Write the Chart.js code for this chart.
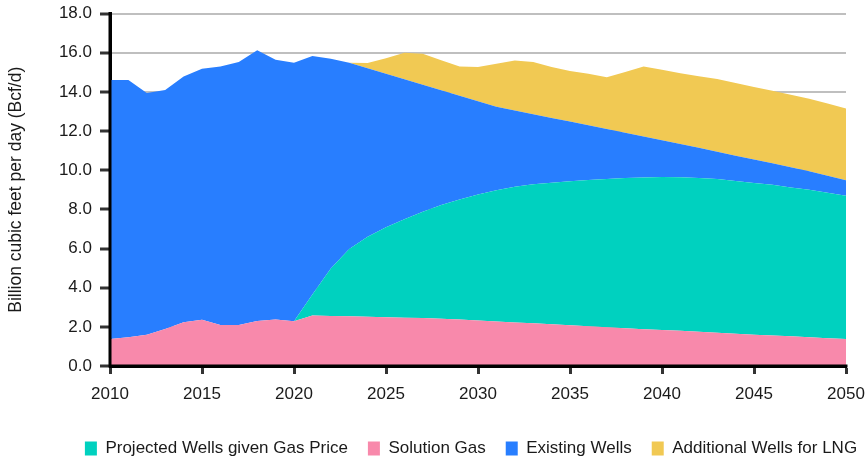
<!DOCTYPE html>
<html>
<head>
<meta charset="utf-8">
<script src="https://cdn.jsdelivr.net/npm/chart.js@4.4.1/dist/chart.umd.min.js"></script>
<style>
  html, body { margin: 0; padding: 0; background: #ffffff; }
  #wrap { width: 865px; height: 461px; position: relative; }
</style>
</head>
<body>
<div id="wrap"><canvas id="c" width="865" height="461"></canvas></div>
<script>
const years = [2010,2011,2012,2013,2014,2015,2016,2017,2018,2019,
  2020,2021,2022,2023,2024,2025,2026,2027,2028,2029,
  2030,2031,2032,2033,2034,2035,2036,2037,2038,2039,
  2040,2041,2042,2043,2044,2045,2046,2047,2048,2049,2050];

const solutionGas = [1.38,1.47,1.60,1.89,2.24,2.36,2.10,2.10,2.30,2.37,
  2.29,2.58,2.55,2.54,2.52,2.49,2.47,2.45,2.41,2.37,
  2.32,2.27,2.22,2.18,2.13,2.08,2.03,1.98,1.93,1.88,
  1.84,1.80,1.75,1.70,1.65,1.60,1.56,1.52,1.47,1.42,1.38];

const projectedWells = [0,0,0,0,0,0,0,0,0,0,
  0,1.07,2.43,3.43,4.08,4.59,5.02,5.43,5.81,6.13,
  6.44,6.71,6.93,7.10,7.23,7.35,7.47,7.57,7.67,7.75,
  7.81,7.84,7.85,7.85,7.80,7.75,7.69,7.60,7.53,7.43,7.32];

const existingWells = [13.23,13.14,12.34,12.21,12.54,12.82,13.20,13.42,13.82,13.27,
  13.20,12.18,10.71,9.52,8.60,7.84,7.15,6.48,5.86,5.30,
  4.76,4.26,3.90,3.58,3.31,3.05,2.79,2.55,2.31,2.09,
  1.88,1.70,1.54,1.39,1.29,1.20,1.10,1.03,0.95,0.87,0.78];

const additionalLNG = [0,0,0,0,0,0,0,0,0,0,
  0,0,0,0,0.27,0.80,1.35,1.59,1.53,1.50,
  1.75,2.20,2.55,2.66,2.60,2.58,2.63,2.65,3.10,3.58,
  3.60,3.61,3.66,3.71,3.71,3.70,3.70,3.70,3.70,3.68,3.67];

const yTickValues = [0,2,4,6,8,10,12,14,16,18];
const xTickValues = [2010,2015,2020,2025,2030,2035,2040,2045,2050];

const seriesNames = ['Solution Gas','Projected Wells given Gas Price','Existing Wells','Additional Wells for LNG'];
const legendOrder = ['Projected Wells given Gas Price','Solution Gas','Existing Wells','Additional Wells for LNG'];
const seriesColors = ['#F889AB','#00D1BF','#287EFF','#F1C953'];
const seriesData = [solutionGas, projectedWells, existingWells, additionalLNG];

const FONT = "'Liberation Sans', Arial, sans-serif";
const TEXT = '#1a1a1a';

const datasets = seriesNames.map((name, i) => ({
  label: name,
  data: years.map((yr, j) => ({ x: yr, y: seriesData[i][j] })),
  backgroundColor: seriesColors[i],
  borderColor: seriesColors[i],
  borderWidth: 0,
  pointRadius: 0,
  pointHoverRadius: 0,
  tension: 0,
  fill: i === 0 ? 'origin' : '-1'
}));

// Redraw the black axis lines on top of the filled areas
const axisOnTop = {
  id: 'axisOnTop',
  afterDatasetsDraw(chart) {
    const { ctx, chartArea: a } = chart;
    ctx.save();
    ctx.strokeStyle = '#000000';
    ctx.lineWidth = 3;
    ctx.lineCap = 'square';
    ctx.beginPath();
    ctx.moveTo(a.left, a.top);
    ctx.lineTo(a.left, a.bottom);
    ctx.lineTo(a.right, a.bottom);
    ctx.stroke();
    ctx.restore();
  }
};

// Nudge the legend to the reference position (it is centred under the plot)
const legendShift = {
  id: 'legendShift',
  afterLayout(chart) {
    const lg = chart.legend;
    if (lg) {
      lg.top += 6; lg.bottom += 6;
      lg.left += 48; lg.right += 48;
    }
  }
};

new Chart(document.getElementById('c'), {
  type: 'line',
  data: { datasets },
  plugins: [axisOnTop, legendShift],
  options: {
    responsive: false,
    animation: false,
    events: [],
    layout: { padding: { top: 13.5, right: 19, left: 0, bottom: 0 } },
    plugins: {
      tooltip: { enabled: false },
      legend: {
        position: 'bottom',
        align: 'center',
        labels: {
          boxWidth: 12,
          boxHeight: 14,
          padding: 20,
          color: TEXT,
          font: { family: FONT, size: 17 },
          sort: (a, b) => legendOrder.indexOf(a.text) - legendOrder.indexOf(b.text)
        }
      }
    },
    scales: {
      x: {
        type: 'linear',
        min: 2010,
        max: 2050,
        afterBuildTicks: (s) => { s.ticks = xTickValues.map(v => ({ value: v })); },
        afterFit: (s) => { s.height = 48; s.paddingLeft = 0; s.paddingRight = 0; },
        ticks: {
          color: TEXT,
          font: { family: FONT, size: 17 },
          padding: 10,
          maxRotation: 0,
          callback: (v) => String(v)
        },
        grid: {
          drawOnChartArea: false,
          drawTicks: true,
          tickLength: 8,
          tickColor: '#333333',
          tickWidth: 3
        },
        border: { display: true, color: '#000000', width: 3 }
      },
      y: {
        type: 'linear',
        stacked: true,
        min: 0,
        max: 18,
        afterBuildTicks: (s) => { s.ticks = yTickValues.map(v => ({ value: v })); },
        afterFit: (s) => { s.width = 110; s.paddingTop = 0; s.paddingBottom = 0; },
        ticks: {
          color: TEXT,
          font: { family: FONT, size: 17 },
          padding: 8,
          callback: (v) => Number(v).toFixed(1)
        },
        title: {
          display: true,
          text: 'Billion cubic feet per day (Bcf/d)',
          color: TEXT,
          font: { family: FONT, size: 17.5 },
          padding: { top: 6, bottom: 0 }
        },
        grid: {
          color: '#BFBFBF',
          lineWidth: 2,
          drawTicks: true,
          tickLength: 10,
          tickColor: '#333333',
          tickWidth: 3
        },
        border: { display: true, color: '#000000', width: 3 }
      }
    }
  }
});
</script>
</body>
</html>
